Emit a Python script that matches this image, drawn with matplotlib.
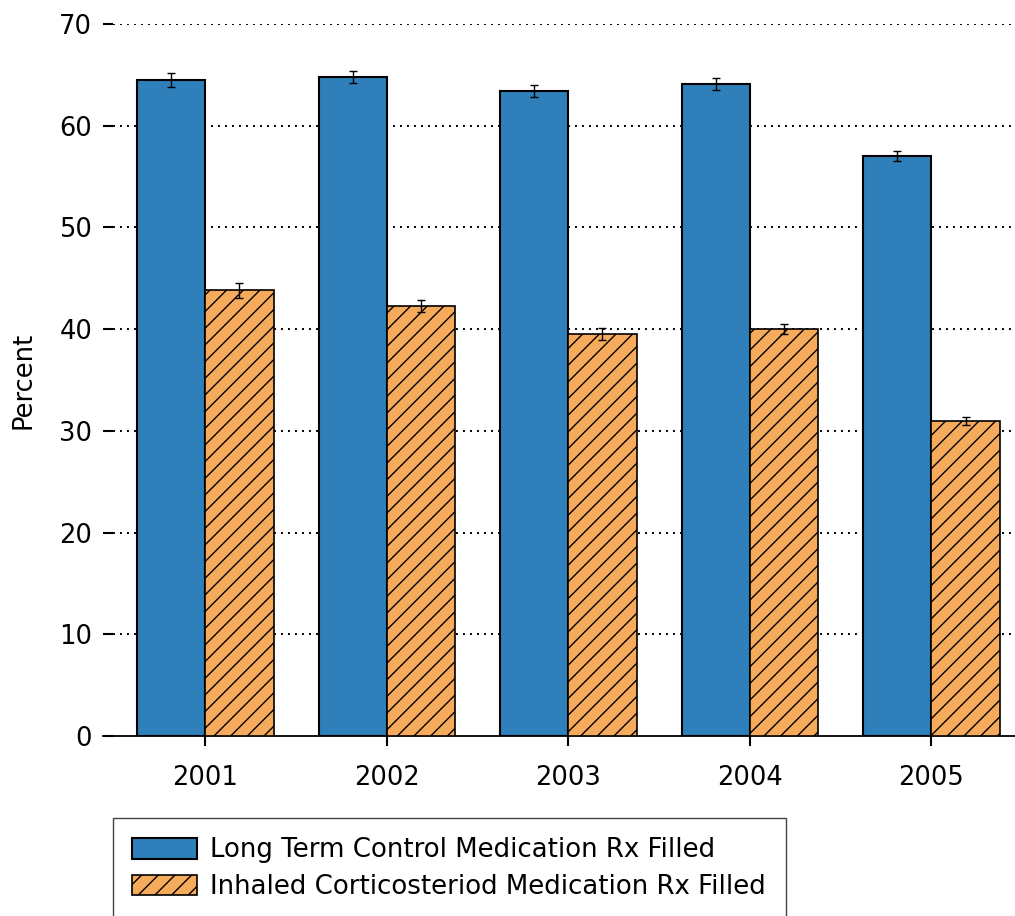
import matplotlib.pyplot as plt
import numpy as np

plt.rcParams['font.family'] = ['DejaVu Sans']
plt.rcParams['hatch.linewidth'] = 1.0

# Dados
anos = ['2001', '2002', '2003', '2004', '2005']
longo_prazo = [64.5, 64.8, 63.4, 64.1, 57.0]
longo_prazo_err = [0.7, 0.6, 0.6, 0.6, 0.5]
corticoide = [43.8, 42.3, 39.5, 40.0, 31.0]
corticoide_err = [0.7, 0.6, 0.6, 0.5, 0.4]

rotulos = ['Long Term Control Medication Rx Filled',
           'Inhaled Corticosteriod Medication Rx Filled']

azul = '#2f7fba'
laranja = '#f6aa5c'

fig = plt.figure(figsize=(10.15, 9.16), dpi=100)
ax = fig.add_axes([113 / 1015, 180 / 916, 1 - 113 / 1015, (736 - 24) / 916])

x = np.arange(len(anos))
largura = 0.376

b1 = ax.bar(x - largura / 2, longo_prazo, largura, color=azul, edgecolor='black',
            linewidth=1.5, yerr=longo_prazo_err, capsize=3,
            error_kw=dict(elinewidth=1, capthick=1), zorder=3, label=rotulos[0])
b2 = ax.bar(x + largura / 2, corticoide, largura, color=laranja, edgecolor='black',
            linewidth=1.2, hatch='//', yerr=corticoide_err, capsize=3,
            error_kw=dict(elinewidth=1, capthick=1), zorder=3, label=rotulos[1])

ax.set_ylim(0, 70)
ax.set_xlim(-0.508, 4.46)
ax.set_yticks(range(0, 71, 10))
ax.set_xticks(x)
ax.set_xticklabels(anos)
ax.tick_params(axis='both', labelsize=18.5, length=7, width=1.5, direction='out')
ax.tick_params(axis='y', pad=8)
ax.tick_params(axis='x', pad=14)
ax.set_ylabel('Percent', fontsize=18.5, labelpad=16)

for s in ['top', 'right', 'left']:
    ax.spines[s].set_visible(False)
ax.spines['bottom'].set_linewidth(1.3)
ax.spines['bottom'].set_bounds(-0.563, 4.46)

# linhas de grade pontilhadas atrás das barras
for v in range(10, 71, 10):
    ax.axhline(v, color='black', linestyle=(0, (1, 2.6)), linewidth=1.4, zorder=1)

fig.legend(handles=[b1, b2], labels=rotulos, loc='upper left',
           bbox_to_anchor=(113 / 1015, 1 - 818 / 916), fontsize=18.7,
           frameon=True, fancybox=False, edgecolor='#444444', framealpha=1,
           handlelength=2.5, handleheight=0.85, handletextpad=0.5,
           borderpad=0.75, labelspacing=0.4, borderaxespad=0)

fig.savefig('out.png', dpi=100)
